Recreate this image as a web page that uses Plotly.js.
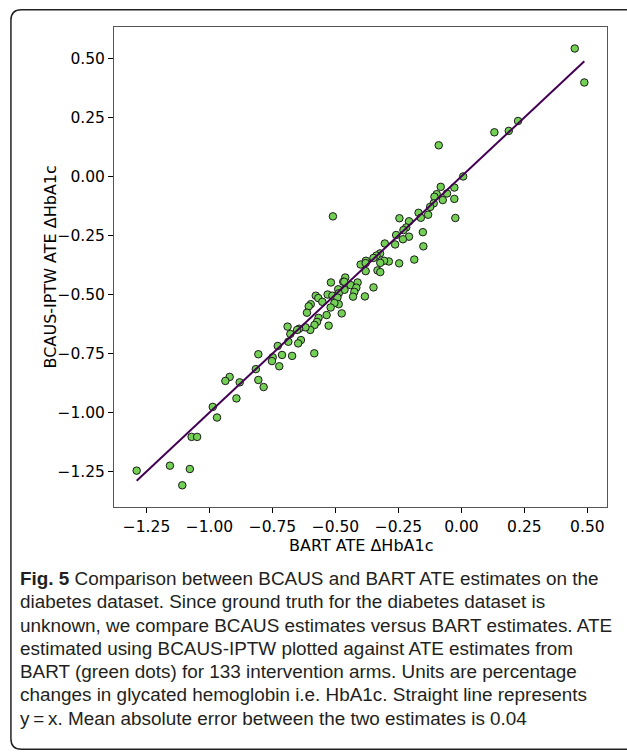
<!DOCTYPE html>
<html>
<head>
<meta charset="utf-8">
<script src="https://cdn.plot.ly/plotly-3.0.1.min.js"></script>
<style>
  html, body { margin: 0; padding: 0; background: #fff; }
  #chart { width: 627px; height: 752px; }
</style>
</head>
<body>
<div id="chart"></div>
<script>
// BART ATE estimates (x) and BCAUS-IPTW ATE estimates (y), ΔHbA1c
const bartATE = [
  0.450, 0.488, 0.225, 0.188, 0.131, -0.090, 0.007, -0.082, -0.028, -0.098,
  -0.057, -0.107, -0.074, -0.028, -0.110, -0.124, -0.132, -0.170, -0.024, -0.161,
  -0.246, -0.208, -0.510, -0.219, -0.230, -0.153, -0.259, -0.208, -0.232, -0.263,
  -0.304, -0.151, -0.187, -0.247, -0.288, -0.307, -0.322, -0.323, -0.337, -0.349,
  -0.379, -0.400, -0.380, -0.333, -0.322, -0.461, -0.518, -0.469, -0.440, -0.412,
  -0.489, -0.349, -0.417, -0.425, -0.531, -0.464, -0.512, -0.430, -0.383, -0.578,
  -0.487, -0.492, -0.568, -0.487, -0.504, -0.519, -0.475, -0.535, -0.552, -0.598,
  -0.606, -0.613, -0.567, -0.573, -0.583, -0.527, -0.600, -0.619, -0.644, -0.652,
  -0.690, -0.679, -0.687, -0.637, -0.648, -0.584, -0.672, -0.712, -0.729, -0.749,
  -0.752, -0.806, -0.816, -0.723, -0.806, -0.785, -0.880, -0.920, -0.937, -0.893,
  -0.987, -0.970, -1.071, -1.049, -1.289, -1.157, -1.078, -1.108, -0.380, -0.465
];
const bcausATE = [
  0.542, 0.398, 0.235, 0.193, 0.187, 0.132, 0.000, -0.044, -0.047, -0.075,
  -0.072, -0.086, -0.100, -0.095, -0.114, -0.129, -0.162, -0.154, -0.176, -0.175,
  -0.177, -0.190, -0.169, -0.216, -0.227, -0.236, -0.248, -0.255, -0.266, -0.288,
  -0.284, -0.296, -0.352, -0.368, -0.360, -0.357, -0.366, -0.326, -0.335, -0.345,
  -0.357, -0.373, -0.401, -0.398, -0.405, -0.428, -0.449, -0.446, -0.460, -0.449,
  -0.478, -0.470, -0.471, -0.489, -0.500, -0.480, -0.505, -0.509, -0.508, -0.505,
  -0.495, -0.513, -0.515, -0.541, -0.536, -0.555, -0.580, -0.587, -0.531, -0.541,
  -0.550, -0.577, -0.599, -0.616, -0.629, -0.632, -0.650, -0.639, -0.645, -0.650,
  -0.636, -0.667, -0.700, -0.693, -0.707, -0.749, -0.760, -0.756, -0.718, -0.766,
  -0.782, -0.753, -0.816, -0.804, -0.862, -0.892, -0.872, -0.849, -0.866, -0.940,
  -0.976, -1.021, -1.103, -1.103, -1.246, -1.225, -1.239, -1.308, -0.367, -0.446
];

const xTickVals = [-1.25, -1.00, -0.75, -0.50, -0.25, 0.00, 0.25, 0.50];
const xTickText = ["\u22121.25", "\u22121.00", "\u22120.75", "\u22120.50", "\u22120.25", "0.00", "0.25", "0.50"];
const yTickVals = [-1.25, -1.00, -0.75, -0.50, -0.25, 0.00, 0.25, 0.50];
const yTickText = ["\u22121.25", "\u22121.00", "\u22120.75", "\u22120.50", "\u22120.25", "0.00", "0.25", "0.50"];

const xTitle = "BART ATE \u0394HbA1c";
const yTitle = "BCAUS-IPTW ATE \u0394HbA1c";

const captionLines = [
  "<b>Fig. 5</b> Comparison between BCAUS and BART ATE estimates on the",
  "diabetes dataset. Since ground truth for the diabetes dataset is",
  "unknown, we compare BCAUS estimates versus BART estimates. ATE",
  "estimated using BCAUS-IPTW plotted against ATE estimates from",
  "BART (green dots) for 133 intervention arms. Units are percentage",
  "changes in glycated hemoglobin i.e. HbA1c. Straight line represents",
  "y\u2009=\u2009x. Mean absolute error between the two estimates is 0.04"
];

// y = x reference line spanning the data's x-extent
const lineMin = Math.min(...bartATE);
const lineMax = Math.max(...bartATE);

// layout geometry (pixels)
const W = 627, H = 752;
const mL = 113.7, mR = W - 607.3, mT = 26.7, mB = H - 507;
const pw = W - mL - mR, ph = H - mT - mB;
const px2x = p => (p - mL) / pw;
const py2y = p => (H - mB - p) / ph;

const scatter = {
  type: 'scatter', mode: 'markers',
  x: bartATE, y: bcausATE,
  marker: { color: '#73d055', size: 7.5, line: { color: '#1a1a1a', width: 1 } },
  hoverinfo: 'x+y', showlegend: false
};
const idLine = {
  type: 'scatter', mode: 'lines',
  x: [lineMin, lineMax], y: [lineMin, lineMax],
  line: { color: '#440154', width: 2 },
  showlegend: false
};

const axisFont = { family: 'DejaVu Sans, sans-serif', size: 15.5, color: '#000' };
const titleFont = { family: 'DejaVu Sans, sans-serif', size: 16, color: '#000' };

const borderPath =
  `M ${px2x(640)},${py2y(9.5)} L ${px2x(21)},${py2y(9.5)} ` +
  `Q ${px2x(10.5)},${py2y(9.5)} ${px2x(10.5)},${py2y(20)} ` +
  `L ${px2x(10.5)},${py2y(739)} Q ${px2x(10.5)},${py2y(749.5)} ${px2x(21)},${py2y(749.5)} ` +
  `L ${px2x(640)},${py2y(749.5)}`;

const annotations = [
  { xref: 'paper', yref: 'paper', x: 0.5, y: py2y(546), xanchor: 'center', yanchor: 'middle',
    showarrow: false, text: xTitle, font: titleFont, borderpad: 0 },
  { xref: 'paper', yref: 'paper', x: px2x(50), y: 0.5, xanchor: 'center', yanchor: 'middle',
    showarrow: false, text: yTitle, font: titleFont, textangle: -90, borderpad: 0 }
];
captionLines.forEach((t, i) => {
  annotations.push({
    xref: 'paper', yref: 'paper',
    x: px2x(19), y: py2y(578.5 + i * 23.3),
    xanchor: 'left', yanchor: 'middle', align: 'left', showarrow: false,
    text: t, borderpad: 0,
    font: { family: 'Liberation Sans, Arial, sans-serif', size: 18.9, color: '#231f20' }
  });
});

const layout = {
  width: W, height: H,
  margin: { l: mL, r: mR, t: mT, b: mB, pad: 0 },
  paper_bgcolor: '#fff', plot_bgcolor: '#fff',
  xaxis: {
    range: [-1.379, 0.578],
    tickvals: xTickVals, ticktext: xTickText,
    ticks: 'outside', ticklen: 5, tickwidth: 1, tickcolor: '#000',
    showline: true, mirror: true, linecolor: '#555', linewidth: 1,
    showgrid: false, zeroline: false,
    tickfont: axisFont
  },
  yaxis: {
    range: [-1.400, 0.633],
    tickvals: yTickVals, ticktext: yTickText,
    ticks: 'outside', ticklen: 5, tickwidth: 1, tickcolor: '#000',
    showline: true, mirror: true, linecolor: '#555', linewidth: 1,
    showgrid: false, zeroline: false,
    tickfont: axisFont
  },
  shapes: [{
    type: 'path', xref: 'paper', yref: 'paper', path: borderPath,
    line: { color: '#222', width: 1.5 }, layer: 'above'
  }],
  annotations: annotations
};

Plotly.newPlot('chart', [scatter, idLine], layout, { staticPlot: true, displayModeBar: false });
</script>
</body>
</html>
